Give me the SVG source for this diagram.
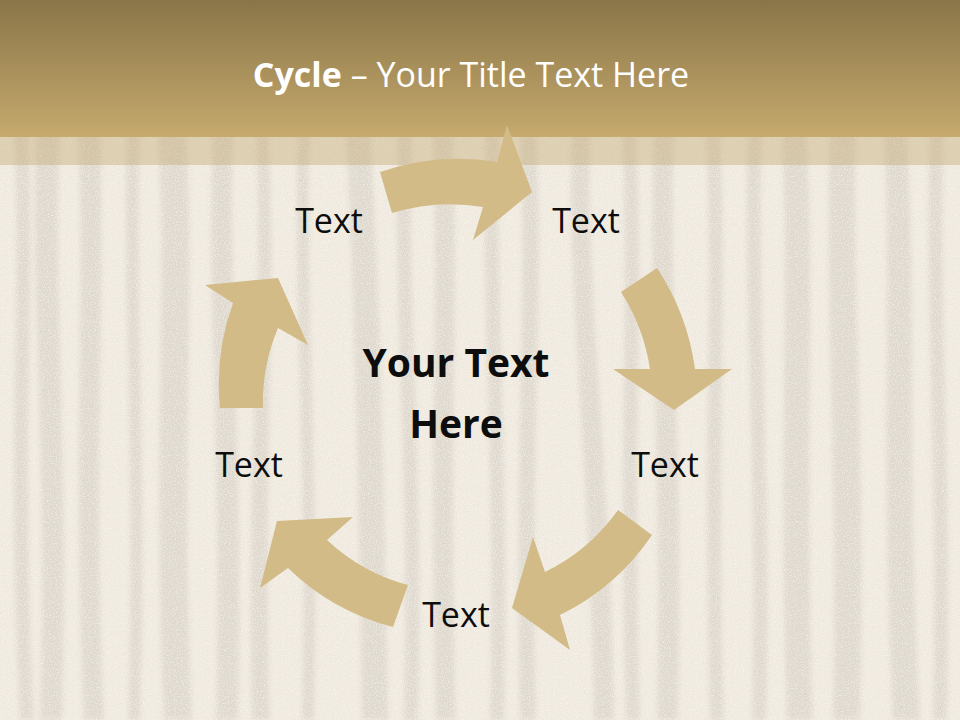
<svg xmlns="http://www.w3.org/2000/svg" width="960" height="720" viewBox="0 0 960 720">
<defs>
<linearGradient id="hdr" x1="0" y1="0" x2="0" y2="1">
<stop offset="0" stop-color="#8a7548"/>
<stop offset="1" stop-color="#c6aa6e"/>
</linearGradient>
<filter id="grain" x="0" y="0" width="100%" height="100%">
<feTurbulence type="fractalNoise" baseFrequency="0.85" numOctaves="2" seed="3" result="n"/>
<feColorMatrix in="n" type="matrix" values="0 0 0 0 1  0 0 0 0 1  0 0 0 0 1  0 0 0 -2.2 1.25"/>
</filter>
<filter id="soft" x="-5%" y="-5%" width="110%" height="110%">
<feGaussianBlur stdDeviation="2.5"/>
</filter>
<style>
.stripe{fill:#c9c1b7}
.arrow{fill:#d3bb87}
.lbl{font-family:"Open Sans","Liberation Sans",sans-serif;font-size:34px;fill:#0d0d0d;text-anchor:middle}
.ctr{font-family:"Open Sans","Liberation Sans",sans-serif;font-size:39px;font-weight:bold;fill:#0d0d0d;text-anchor:middle}
.ttl{font-family:"Open Sans","Liberation Sans",sans-serif;font-size:34px;fill:#ffffff;text-anchor:middle}
</style>
</defs>
<g id="background">
<rect x="0" y="0" width="960" height="720" fill="#efe9de"/>
<g id="stripes" filter="url(#soft)" opacity="0.42">
<path class="stripe" d="M14,130 C22,300 6,450 20,720 L34,720 C20,450 36,300 28,130 Z"/>
<path class="stripe" d="M36,130 C30,300 48,450 40,720 L62,720 C70,450 52,300 60,130 Z"/>
<path class="stripe" d="M78,130 C86,300 72,450 84,720 L104,720 C92,450 106,300 100,130 Z"/>
<path class="stripe" d="M127,130 C122,300 136,450 128,720 L140,720 C148,450 134,300 140,130 Z"/>
<path class="stripe" d="M158,130 C168,300 152,450 164,720 L192,720 C180,450 196,300 186,130 Z"/>
<path class="stripe" d="M213,130 C206,300 222,450 216,720 L238,720 C244,450 228,300 233,130 Z"/>
<path class="stripe" d="M256,130 C264,300 246,450 252,720 L270,720 C262,450 278,300 268,130 Z"/>
<path class="stripe" d="M298,130 C292,300 308,450 302,720 L314,720 C320,450 304,300 310,130 Z"/>
<path class="stripe" d="M346,130 C354,300 358,450 362,720 L388,720 C384,450 380,300 370,130 Z"/>
<path class="stripe" d="M398,130 C392,300 410,450 404,720 L418,720 C424,450 406,300 412,130 Z"/>
<path class="stripe" d="M432,130 C440,300 428,450 436,720 L456,720 C448,450 460,300 452,130 Z"/>
<path class="stripe" d="M486,130 C480,300 496,450 490,720 L504,720 C510,450 494,300 500,130 Z"/>
<path class="stripe" d="M520,130 C528,300 514,450 520,720 L536,720 C530,450 544,300 536,130 Z"/>
<path class="stripe" d="M572,130 C566,300 590,450 594,720 L614,720 C610,450 586,300 590,130 Z"/>
<path class="stripe" d="M622,130 C630,300 618,450 626,720 L640,720 C632,450 644,300 636,130 Z"/>
<path class="stripe" d="M654,130 C648,300 662,450 657,720 L678,720 C684,450 668,300 674,130 Z"/>
<path class="stripe" d="M706,130 C714,300 702,450 710,720 L724,720 C716,450 728,300 720,130 Z"/>
<path class="stripe" d="M748,130 C742,300 758,450 752,720 L766,720 C772,450 756,300 762,130 Z"/>
<path class="stripe" d="M782,130 C790,300 778,450 787,720 L813,720 C804,450 816,300 806,130 Z"/>
<path class="stripe" d="M830,130 C824,300 838,450 833,720 L860,720 C866,450 852,300 856,130 Z"/>
<path class="stripe" d="M884,130 C892,300 880,450 893,720 L920,720 C906,450 918,300 906,130 Z"/>
<path class="stripe" d="M930,130 C924,300 938,450 933,720 L947,720 C952,450 938,300 944,130 Z"/>
</g>
<rect x="0" y="0" width="960" height="720" filter="url(#grain)" opacity="0.6"/>
<rect x="0" y="0" width="960" height="137" fill="url(#hdr)"/>
<rect x="0" y="137" width="960" height="28" fill="#c4a86e" opacity="0.4"/>
</g>
<g id="title">
<text class="ttl" x="471" y="87"><tspan font-weight="bold">Cycle</tspan> – Your Title Text Here</text>
</g>
<g id="connectors">
<path id="arrow-1" class="arrow" d="M380,172 A240,240 0 0 1 497,162 L507,125 L532,192 L473,240 L483,207 A197,197 0 0 0 392,213 Z"/>
<path id="arrow-2" class="arrow" d="M657,268 A242,242 0 0 1 695,369 L732,369 L674,410 L613,369 L650,369 A198,198 0 0 0 621,292 Z"/>
<path id="arrow-3" class="arrow" d="M652,535 A238,238 0 0 1 560,615 L570,650 L512,608 L533,537 L545,572 A194,194 0 0 0 618,510 Z"/>
<path id="arrow-4" class="arrow" d="M393,627 A235,235 0 0 1 288,568 L260,588 L277,521 L353,517 L327,540 A189,189 0 0 0 408,585 Z"/>
<path id="arrow-5" class="arrow" d="M220,408 A238,238 0 0 1 233,303 L205,285 L278,278 L308,345 L278,328 A192,192 0 0 0 263,408 Z"/>
</g>
<g id="node-center">
<text class="ctr" x="456" y="377">Your Text</text>
<text class="ctr" x="456" y="438">Here</text>
</g>
<g id="node-1"><text class="lbl" x="329" y="233">Text</text></g>
<g id="node-2"><text class="lbl" x="586" y="233">Text</text></g>
<g id="node-3"><text class="lbl" x="665" y="477">Text</text></g>
<g id="node-4"><text class="lbl" x="456" y="627">Text</text></g>
<g id="node-5"><text class="lbl" x="249" y="477">Text</text></g>
</svg>
